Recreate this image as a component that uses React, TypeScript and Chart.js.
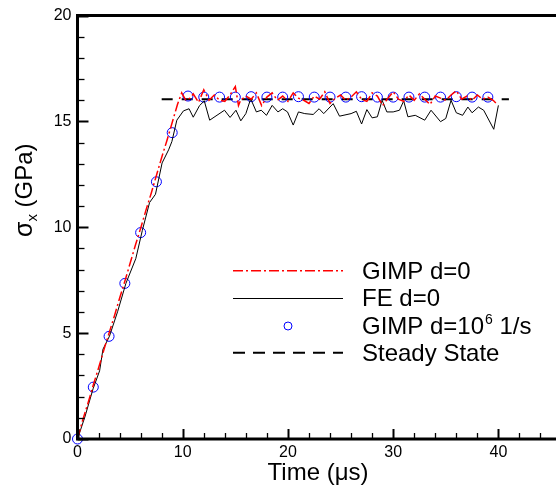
import React, { useEffect, useRef } from "react";
import { Chart, registerables } from "chart.js";

Chart.register(...registerables);

// ---- data ----
const gimpTime = [0, 0.5, 1, 1.5, 2, 2.5, 3, 3.5, 4, 4.5, 5, 5.5, 6, 6.5, 7, 7.5, 8, 8.5, 9, 9.5, 9.9, 10.3, 10.7, 11.0, 11.5, 12.0, 12.5, 13.0, 13.5, 14.0, 14.5, 15.0, 15.3, 15.5, 16.0, 16.5, 17.0, 17.5, 18.0, 18.5, 19.0, 19.5, 20.0, 20.5, 21.0, 21.5, 22.0, 22.5, 23.0, 23.5, 24.0, 24.5, 25.0, 25.5, 26.0, 26.5, 27.0, 27.5, 28.0, 28.5, 29.0, 29.5, 30.0, 30.5, 31.0, 31.5, 32.0, 32.5, 33.0, 33.5, 34.0, 34.5, 35.0, 35.5, 36.0, 36.5, 37.0, 37.5, 38.0, 38.5, 39.0, 39.5, 39.8];
const gimpStress = [0, 0.9, 1.7, 2.55, 3.35, 4.2, 5.0, 5.8, 6.65, 7.45, 8.3, 9.15, 9.95, 10.8, 11.6, 12.45, 13.3, 14.1, 14.95, 15.8, 16.35, 16.0, 16.1, 16.3, 15.9, 16.5, 16.0, 16.25, 16.0, 15.95, 16.25, 16.65, 15.75, 16.0, 16.2, 16.05, 16.35, 15.75, 16.15, 16.35, 16.0, 16.2, 15.95, 16.35, 16.1, 16.0, 15.85, 16.2, 16.05, 16.4, 15.85, 16.1, 16.25, 16.0, 16.15, 16.4, 16.05, 15.95, 16.35, 16.2, 15.75, 16.1, 16.4, 16.05, 15.95, 16.25, 16.0, 16.3, 16.05, 15.8, 16.2, 16.1, 16.0, 16.25, 16.45, 16.05, 16.2, 16.0, 16.25, 16.05, 16.15, 16.0, 15.85];

const feTime = [0, 0.7, 1.48, 2.1, 2.42, 3.04, 3.82, 4.6, 5.54, 6.16, 6.85, 7.41, 8.04, 8.66, 8.97, 9.44, 10.07, 10.6, 11.0, 11.6, 12.05, 12.56, 13.97, 14.5, 15.06, 15.52, 16.0, 16.46, 17.0, 17.46, 17.96, 18.5, 19.05, 19.5, 19.96, 20.5, 21.0, 21.6, 22.4, 22.96, 23.4, 24.3, 24.9, 26.0, 26.5, 27.0, 27.5, 28.0, 28.5, 28.95, 29.4, 30.0, 30.6, 31.0, 31.4, 32.1, 33.0, 33.6, 34.5, 35.0, 35.5, 36.0, 36.6, 37.1, 37.5, 38.1, 38.6, 39.56, 40.0];
const feStress = [0, 1.04, 2.37, 3.22, 4.24, 4.86, 6.03, 7.35, 8.52, 9.85, 11.17, 11.56, 13.04, 13.66, 14.05, 15.06, 15.5, 15.6, 15.2, 15.75, 15.97, 15.06, 15.53, 15.19, 15.53, 15.03, 15.37, 16.07, 15.45, 15.53, 15.29, 15.76, 15.45, 15.6, 15.45, 14.83, 15.45, 15.37, 15.33, 15.6, 15.37, 15.84, 15.25, 15.37, 15.48, 14.88, 15.56, 15.17, 15.22, 16.0, 15.45, 15.45, 15.53, 15.97, 15.22, 15.29, 15.06, 15.53, 14.99, 15.14, 16.0, 15.41, 15.29, 15.68, 15.41, 15.68, 15.53, 14.63, 15.76];

const dampTime = [0, 1.5, 3, 4.5, 6, 7.5, 9, 10.5, 12, 13.5, 15, 16.5, 18, 19.5, 21, 22.5, 24, 25.5, 27, 28.5, 30, 31.5, 33, 34.5, 36, 37.5, 39];
const dampStress = [0, 2.45, 4.85, 7.35, 9.75, 12.15, 14.47, 16.2, 16.15, 16.15, 16.15, 16.17, 16.15, 16.15, 16.17, 16.15, 16.15, 16.15, 16.17, 16.15, 16.15, 16.15, 16.15, 16.15, 16.17, 16.15, 16.15];

const steadyTime = [8, 41];
const steadyStress = [16.05, 16.05];

const xTickValues = [0, 10, 20, 30, 40];
const yTickValues = [0, 5, 10, 15, 20];
const xMinorStep = 2;
const yMinorStep = 1;
const xMax = 45;
const yMax = 20;

const legendLabels = ["GIMP d=0", "FE d=0", "GIMP d=10", "Steady State"];

const FONT = '"Liberation Sans", Arial, Helvetica, sans-serif';

const zip = (xs: number[], ys: number[]) => xs.map((x, i) => ({ x, y: ys[i] }));

const framePlugin = {
  id: "frame",
  afterDraw(chart: any) {
    const ctx: CanvasRenderingContext2D = chart.ctx;
    const { left, right, top, bottom } = chart.chartArea;
    const xs = chart.scales.x;
    const ys = chart.scales.y;
    ctx.save();
    ctx.strokeStyle = "#000";
    ctx.setLineDash([]);
    // ticks (inward)
    for (let v = 0; v <= xMax + 1e-9; v += xMinorStep) {
      const px = Math.round(xs.getPixelForValue(v)) + 0.5;
      const major = Math.abs(v % 10) < 1e-9;
      ctx.lineWidth = major ? 2 : 1.3;
      ctx.beginPath();
      ctx.moveTo(px, bottom);
      ctx.lineTo(px, bottom - (major ? 10 : 6));
      ctx.stroke();
    }
    for (let v = 0; v <= yMax + 1e-9; v += yMinorStep) {
      const py = Math.round(ys.getPixelForValue(v)) + 0.5;
      const major = Math.abs(v % 5) < 1e-9;
      ctx.lineWidth = major ? 2 : 1.3;
      ctx.beginPath();
      ctx.moveTo(left, py);
      ctx.lineTo(left + (major ? 11 : 7), py);
      ctx.stroke();
    }
    // axis lines
    ctx.lineWidth = 3;
    ctx.beginPath();
    ctx.moveTo(left, top);
    ctx.lineTo(right + 5, top);
    ctx.moveTo(left, top - 1.5);
    ctx.lineTo(left, bottom + 1.5);
    ctx.moveTo(left - 1.5, bottom);
    ctx.lineTo(right + 5, bottom);
    ctx.stroke();

    ctx.fillStyle = "#000";
    // x title
    ctx.font = `24px ${FONT}`;
    ctx.textAlign = "center";
    ctx.textBaseline = "alphabetic";
    ctx.fillText("Time (\u03bcs)", 318, 480);

    // y title
    ctx.save();
    ctx.translate(32, 237);
    ctx.rotate(-Math.PI / 2);
    ctx.textAlign = "left";
    ctx.font = `25px ${FONT}`;
    ctx.fillText("\u03c3", 0, 0);
    let w = ctx.measureText("\u03c3").width;
    ctx.font = `15px ${FONT}`;
    ctx.fillText("x", w, 5);
    w += ctx.measureText("x").width;
    ctx.font = `24px ${FONT}`;
    ctx.fillText(" (GPa)", w, 0);
    ctx.restore();

    // legend
    const lx0 = 233, lx1 = 343, tx = 362;
    const rows = [270.7, 298, 326, 352.7];
    // row 1: red dash-dot
    ctx.strokeStyle = "#ff0000";
    ctx.lineWidth = 1.5;
    ctx.setLineDash([10, 3, 2, 3]);
    ctx.beginPath();
    ctx.moveTo(lx0, rows[0]);
    ctx.lineTo(lx1, rows[0]);
    ctx.stroke();
    // row 2: black solid
    ctx.strokeStyle = "#000";
    ctx.lineWidth = 1;
    ctx.setLineDash([]);
    ctx.beginPath();
    ctx.moveTo(lx0, rows[1] + 0.5);
    ctx.lineTo(lx1, rows[1] + 0.5);
    ctx.stroke();
    // row 3: circle
    ctx.strokeStyle = "#0000ff";
    ctx.beginPath();
    ctx.arc(288, rows[2], 4, 0, Math.PI * 2);
    ctx.stroke();
    // row 4: dashed
    ctx.strokeStyle = "#000";
    ctx.lineWidth = 2;
    ctx.setLineDash([12, 8]);
    ctx.beginPath();
    ctx.moveTo(lx0, rows[3]);
    ctx.lineTo(lx1, rows[3]);
    ctx.stroke();
    ctx.setLineDash([]);

    ctx.textAlign = "left";
    ctx.font = `24px ${FONT}`;
    const cap = 8;
    ctx.fillText(legendLabels[0], tx, rows[0] + cap);
    ctx.fillText(legendLabels[1], tx, rows[1] + cap);
    ctx.fillText(legendLabels[2], tx, rows[2] + cap);
    let lw = ctx.measureText(legendLabels[2]).width;
    ctx.font = `14px ${FONT}`;
    ctx.fillText("6", tx + lw + 1, rows[2] + cap - 10);
    lw += ctx.measureText("6").width + 1;
    ctx.font = `24px ${FONT}`;
    ctx.fillText(" 1/s", tx + lw, rows[2] + cap);
    ctx.fillText(legendLabels[3], tx, rows[3] + cap);
    ctx.restore();
  },
};

export default function App() {
  const ref = useRef<HTMLCanvasElement | null>(null);
  useEffect(() => {
    if (!ref.current) return;
    const chart = new Chart(ref.current, {
      type: "line",
      data: {
        datasets: [
          {
            label: "GIMP d=0",
            data: zip(gimpTime, gimpStress),
            borderColor: "#ff0000",
            borderWidth: 1.5,
            borderDash: [10, 3, 2, 3],
            pointRadius: 0,
            tension: 0,
            fill: false,
          },
          {
            label: "FE d=0",
            data: zip(feTime, feStress),
            borderColor: "#000000",
            borderWidth: 1,
            pointRadius: 0,
            tension: 0,
            fill: false,
          },
          {
            label: "GIMP d=10^6 1/s",
            data: zip(dampTime, dampStress),
            showLine: false,
            borderColor: "#0000ff",
            backgroundColor: "rgba(0,0,0,0)",
            pointBorderColor: "#0000ff",
            pointBackgroundColor: "rgba(0,0,0,0)",
            pointBorderWidth: 1,
            pointRadius: 5,
            clip: false as any,
          },
          {
            label: "Steady State",
            data: zip(steadyTime, steadyStress),
            borderColor: "#000000",
            borderWidth: 2,
            borderDash: [11, 9],
            pointRadius: 0,
            tension: 0,
            fill: false,
          },
        ],
      },
      options: {
        animation: false,
        responsive: false,
        devicePixelRatio: 1,
        layout: { padding: { top: 11, left: 0, right: 0, bottom: 0 } },
        plugins: { legend: { display: false }, tooltip: { enabled: false } },
        scales: {
          x: {
            type: "linear",
            min: 0,
            max: xMax,
            grid: { display: false, drawTicks: false },
            border: { display: false },
            ticks: { color: "#000", font: { family: FONT, size: 16 }, padding: 4, maxRotation: 0 },
            afterBuildTicks: (s: any) => {
              s.ticks = xTickValues.map((v) => ({ value: v }));
            },
            afterFit: (s: any) => {
              s.height = 50;
            },
          },
          y: {
            type: "linear",
            min: 0,
            max: yMax,
            grid: { display: false, drawTicks: false },
            border: { display: false },
            ticks: { color: "#000", font: { family: FONT, size: 16 }, padding: 6 },
            afterBuildTicks: (s: any) => {
              s.ticks = yTickValues.map((v) => ({ value: v }));
            },
            afterFit: (s: any) => {
              s.width = 77.5;
            },
          },
        },
      },
      plugins: [framePlugin],
    });
    return () => chart.destroy();
  }, []);
  return (
    <div style={{ position: "fixed", left: 0, top: 0, width: 557, height: 489, background: "#fff" }}>
      <canvas ref={ref} width={557} height={489} style={{ width: 557, height: 489, display: "block" }} />
    </div>
  );
}
